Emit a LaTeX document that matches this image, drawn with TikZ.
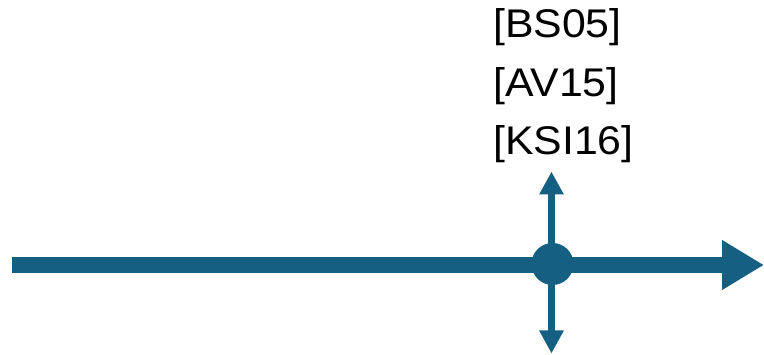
\documentclass[tikz,border=0pt]{standalone}
\usepackage{fontspec}
\newfontfamily\labfont[FakeStretch=1.07]{Liberation Sans}
\usetikzlibrary{arrows.meta}
\definecolor{axis}{HTML}{156082}
\tikzset{
  mainaxis/.style={draw=axis, line width=16pt, -{Triangle[length=42pt,width=47pt]}},
  crossaxis/.style={draw=axis, line width=7.5pt, {Triangle[length=23pt,width=23pt]}-{Triangle[length=23pt,width=23pt]}},
  event/.style={circle, fill=axis, minimum size=42pt, inner sep=0pt},
  reflabel/.style={anchor=base west, inner sep=0pt, font=\labfont\fontsize{40}{48}\selectfont, text=black}
}
\begin{document}
\begin{tikzpicture}[x=1pt,y=-1pt]
\useasboundingbox (0,0) rectangle (764,355);
\coordinate (start) at (12,265);
\coordinate (end) at (764,265);
\coordinate (top) at (551.5,171.5);
\coordinate (bottom) at (551.5,353.5);
\draw[mainaxis] (start) -- (end);
\draw[crossaxis] (bottom) -- (top);
\node[event] (ev) at (552.5,264) {};
\node[reflabel] (r1) at (493,38) {[BS05]};
\node[reflabel] (r2) at (493,96.5) {[AV15]};
\node[reflabel] (r3) at (493,155) {[KSI16]};
\end{tikzpicture}
\end{document}
